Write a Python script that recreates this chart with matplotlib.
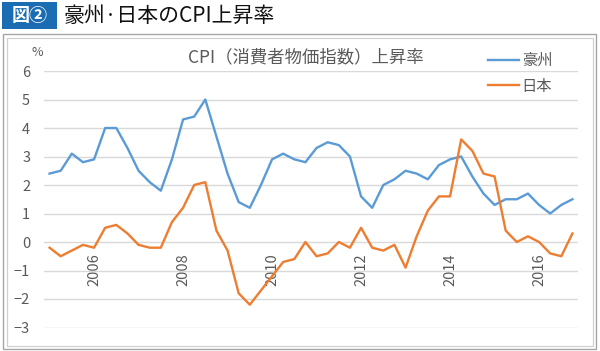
import matplotlib
matplotlib.use("Agg")
import matplotlib.pyplot as plt
from matplotlib.patches import Rectangle

plt.rcParams["font.family"] = ["Noto Sans CJK JP", "DejaVu Sans"]

# quarterly CPI change (%), 2005Q1 .. 2016Q4
australia = [2.4, 2.5, 3.1, 2.8, 2.9, 4.0, 4.0, 3.3, 2.5, 2.1, 1.8, 2.9,
             4.3, 4.4, 5.0, 3.7, 2.4, 1.4, 1.2, 2.0, 2.9, 3.1, 2.9, 2.8,
             3.3, 3.5, 3.4, 3.0, 1.6, 1.2, 2.0, 2.2, 2.5, 2.4, 2.2, 2.7,
             2.9, 3.0, 2.3, 1.7, 1.3, 1.5, 1.5, 1.7, 1.3, 1.0, 1.3, 1.5]
japan = [-0.2, -0.5, -0.3, -0.1, -0.2, 0.5, 0.6, 0.3, -0.1, -0.2, -0.2, 0.7,
         1.2, 2.0, 2.1, 0.4, -0.3, -1.8, -2.2, -1.7, -1.2, -0.7, -0.6, 0.0,
         -0.5, -0.4, 0.0, -0.2, 0.5, -0.2, -0.3, -0.1, -0.9, 0.2, 1.1, 1.6,
         1.6, 3.6, 3.2, 2.4, 2.3, 0.4, 0.0, 0.2, 0.0, -0.4, -0.5, 0.3]
year_labels = ["2006", "2008", "2010", "2012", "2014", "2016"]
year_idx = [4, 12, 20, 28, 36, 44]
series_names = ["豪州", "日本"]

W, H = 600, 351
fig = plt.figure(figsize=(W / 100, H / 100), dpi=100)


def fx(px):
    return px / W


def fy(py):
    return 1 - py / H


# header
fig.patches.append(Rectangle((fx(2), fy(29)), fx(55), 27 / H, transform=fig.transFigure,
                             facecolor="#1b6db3", edgecolor="none"))
fig.text(fx(29.5), fy(15.5), "図②", color="white", fontsize=13, fontweight="bold",
         ha="center", va="center")
fig.text(fx(64), fy(16), "豪州·日本のCPI上昇率", color="#111111", fontsize=15,
         ha="left", va="center")

# double frame
fig.patches.append(Rectangle((fx(3), fy(349)), fx(593), 315 / H, transform=fig.transFigure,
                             facecolor="none", edgecolor="#a6a6a6", lw=1.0))
fig.patches.append(Rectangle((fx(6.5), fy(345.5)), fx(586), 308 / H, transform=fig.transFigure,
                             facecolor="none", edgecolor="#d0d0d0", lw=0.9))

ax = fig.add_axes([fx(44), fy(327.5), fx(578 - 44), (327.5 - 71) / H])
ax.set_facecolor("none")

x = list(range(len(australia)))
ax.plot(x, australia, color="#5b9bd5", lw=1.7, label=series_names[0], zorder=3)
ax.plot(x, japan, color="#ed7d31", lw=1.7, label=series_names[1], zorder=3)

ax.set_xlim(-0.5, len(australia) - 0.5)
ax.set_ylim(-3, 6)
ax.set_yticks(range(-3, 7))
ax.grid(axis="y", color="#d9d9d9", lw=1.0)
ax.set_axisbelow(True)

for s in ["top", "right", "left"]:
    ax.spines[s].set_visible(False)
ax.spines["bottom"].set_position(("data", 0))
ax.spines["bottom"].set_visible(False)

ax.set_xticks(year_idx)
ax.set_xticklabels(year_labels, rotation=90, va="top", ha="center")
ax.tick_params(axis="x", length=0, pad=8, labelsize=10.5, labelcolor="#595959")
ax.tick_params(axis="y", length=0, pad=10, labelsize=10.5, labelcolor="#595959")

fig.text(fx(37), fy(53), "%", fontsize=9, color="#595959", ha="center", va="center")
fig.text(fx(306), fy(57), "CPI（消費者物価指数）上昇率", fontsize=12.5, color="#595959",
         ha="center", va="center")

ax.legend(loc="upper left", bbox_to_anchor=(fx(482 - 44) / fx(578 - 44), 1 + 25 / 256.5),
          frameon=False, fontsize=11, labelcolor="#595959", handlelength=2.0,
          handletextpad=0.2, labelspacing=0.55, borderaxespad=0)

fig.savefig("out.png", dpi=100)
